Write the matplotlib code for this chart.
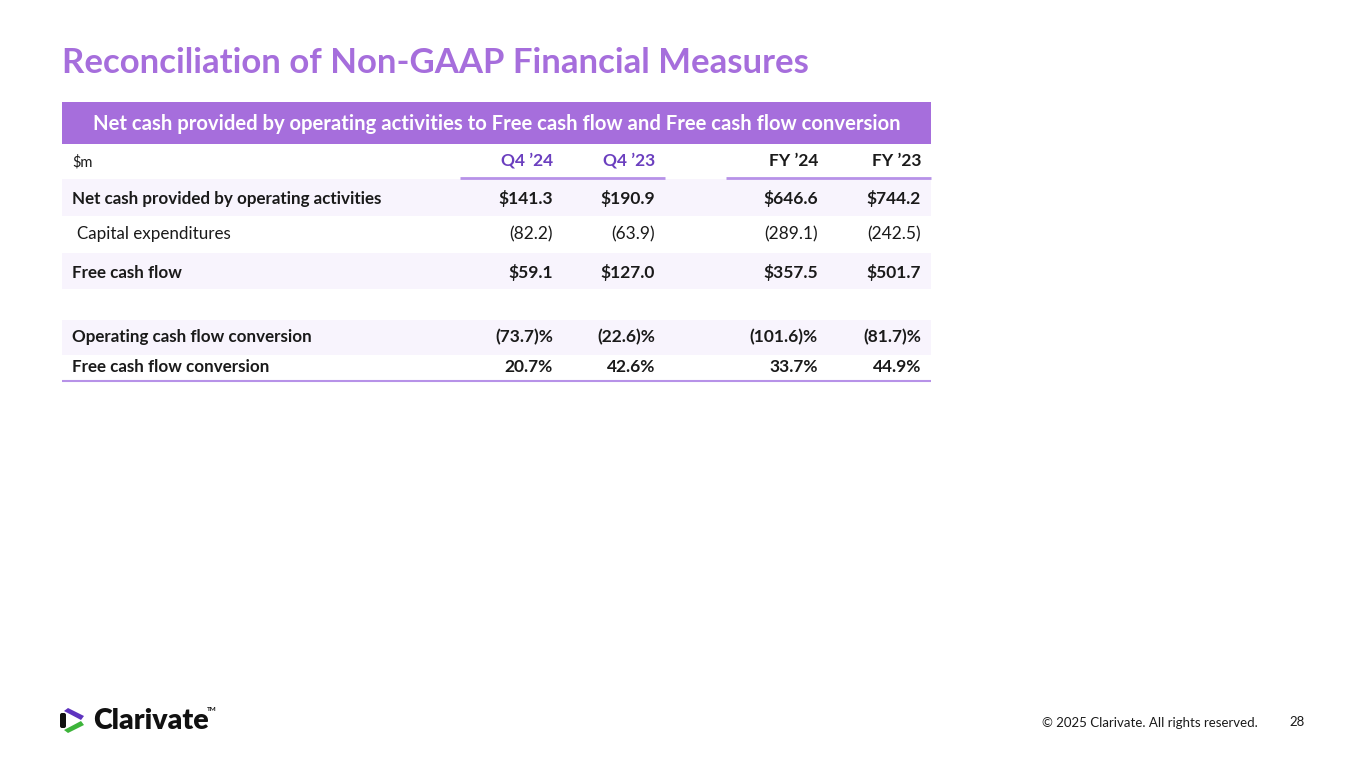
"""Clarivate slide: reconciliation of non-GAAP financial measures (cash flow table)."""

import matplotlib

matplotlib.use("Agg")
import matplotlib.pyplot as plt  # noqa: E402
from matplotlib.patches import FancyBboxPatch, Polygon, Rectangle  # noqa: E402

plt.rcParams["font.family"] = ["Lato", "DejaVu Sans"]

TITLE = "Reconciliation of Non-GAAP Financial Measures"
BAND_TITLE = "Net cash provided by operating activities to Free cash flow and Free cash flow conversion"
UNIT = "$m"
COLUMNS = ["Q4 \u201924", "Q4 \u201923", "FY \u201924", "FY \u201923"]

ROW_LABELS = [
    "Net cash provided by operating activities",
    "Capital expenditures",
    "Free cash flow",
    "",
    "Operating cash flow conversion",
    "Free cash flow conversion",
]
ROW_KIND = ["dollar", "paren", "dollar", None, "pct", "pct"]
Q4_24 = [141.3, -82.2, 59.1, None, -73.7, 20.7]
Q4_23 = [190.9, -63.9, 127.0, None, -22.6, 42.6]
FY_24 = [646.6, -289.1, 357.5, None, -101.6, 33.7]
FY_23 = [744.2, -242.5, 501.7, None, -81.7, 44.9]

PURPLE = "#A66EDC"
DARK_PURPLE = "#6B3FBF"
LINE = "#B792E8"
SHADE = "#F8F4FD"
TEXT = "#1A1A1A"

# layout in pixel coords (figure is 1365 x 766)
TABLE_L, TABLE_R = 62, 931
COL_X = [553, 655, 818, 921]
ROW_TOP = [179, 216, 253, 290, 320, 355]
ROW_H = [37, 37, 36, 30, 35, 26]
ROW_BASE = [204, 239, 278, None, 342, 372]
ROW_SHADED = [True, False, True, False, True, False]
ROW_BOLD = [True, False, True, False, True, True]


def fmt(v, kind):
    if v is None:
        return ""
    if kind == "dollar":
        return f"${v:.1f}"
    if kind == "paren":
        return f"({abs(v):.1f})"
    if v < 0:
        return f"({abs(v):.1f})%"
    return f"{v:.1f}%"


def draw_logo(ax, x, yc):
    # open hexagon mark: purple upper arm, black spine, green lower arm
    ax.add_patch(Polygon([[x + 4, yc - 9.5], [x + 8, yc - 12.5], [x + 24, yc - 4.5], [x + 21, yc - 0.5]],
                         closed=True, color="#5E33BF", lw=0))
    ax.add_patch(FancyBboxPatch((x + 0.5, yc - 7), 5, 14, boxstyle="round,pad=0.5,rounding_size=2",
                                color="#111111", lw=0))
    ax.add_patch(Polygon([[x + 4, yc + 9.5], [x + 8, yc + 12.5], [x + 24, yc + 4.5], [x + 21, yc + 0.5]],
                         closed=True, color="#3DB43A", lw=0))
    ax.text(x + 33, yc + 8.5, "Clarivate", fontsize=20.5, fontweight="heavy", color="#111111",
            ha="left", va="baseline")
    ax.text(x + 147, yc - 9.5, "TM", fontsize=4.5, fontweight="bold", color="#111111",
            ha="left", va="baseline")


def main():
    fig = plt.figure(figsize=(13.65, 7.66), dpi=100)
    ax = fig.add_axes([0, 0, 1, 1])
    ax.set_xlim(0, 1365)
    ax.set_ylim(766, 0)
    ax.axis("off")

    ax.text(62, 73, TITLE, fontsize=25, fontweight="bold", color=PURPLE, ha="left", va="baseline")

    ax.add_patch(Rectangle((TABLE_L, 102), TABLE_R - TABLE_L, 42, color=PURPLE, lw=0))
    ax.text((TABLE_L + TABLE_R) / 2, 130, BAND_TITLE, fontsize=14.6, fontweight="bold",
            color="white", ha="center", va="baseline")

    ax.text(72, 166, UNIT, fontsize=10.5, color=TEXT, ha="left", va="baseline")
    for i, (cx, name) in enumerate(zip(COL_X, COLUMNS)):
        color = DARK_PURPLE if i < 2 else TEXT
        ax.text(cx, 166, name, fontsize=12.5, fontweight="bold", color=color, ha="right", va="baseline")
    ax.plot([460, 665], [178, 178], color=LINE, lw=2, solid_capstyle="butt")
    ax.plot([726, 931], [178, 178], color=LINE, lw=2, solid_capstyle="butt")

    series = [Q4_24, Q4_23, FY_24, FY_23]
    for r, label in enumerate(ROW_LABELS):
        top, h = ROW_TOP[r], ROW_H[r]
        if ROW_SHADED[r]:
            ax.add_patch(Rectangle((TABLE_L, top), TABLE_R - TABLE_L, h, color=SHADE, lw=0))
        if not label:
            continue
        base = ROW_BASE[r]
        weight = "bold" if ROW_BOLD[r] else "normal"
        lx = 72 if ROW_BOLD[r] else 77
        ax.text(lx, base, label, fontsize=12.25, fontweight=weight, color=TEXT, ha="left", va="baseline")
        for cx, vals in zip(COL_X, series):
            ax.text(cx, base, fmt(vals[r], ROW_KIND[r]), fontsize=12.5, fontweight=weight,
                    color=TEXT, ha="right", va="baseline")
    ax.plot([TABLE_L, TABLE_R], [381, 381], color=LINE, lw=1.5, solid_capstyle="butt")

    draw_logo(ax, 60, 720.5)
    ax.text(1258, 727, "\u00a9 2025 Clarivate. All rights reserved.", fontsize=9.5, color=TEXT,
            ha="right", va="baseline")
    ax.text(1305, 726, "28", fontsize=9.5, color=TEXT, ha="right", va="baseline")

    fig.savefig("out.png", dpi=100)
    plt.close(fig)


if __name__ == "__main__":
    main()
